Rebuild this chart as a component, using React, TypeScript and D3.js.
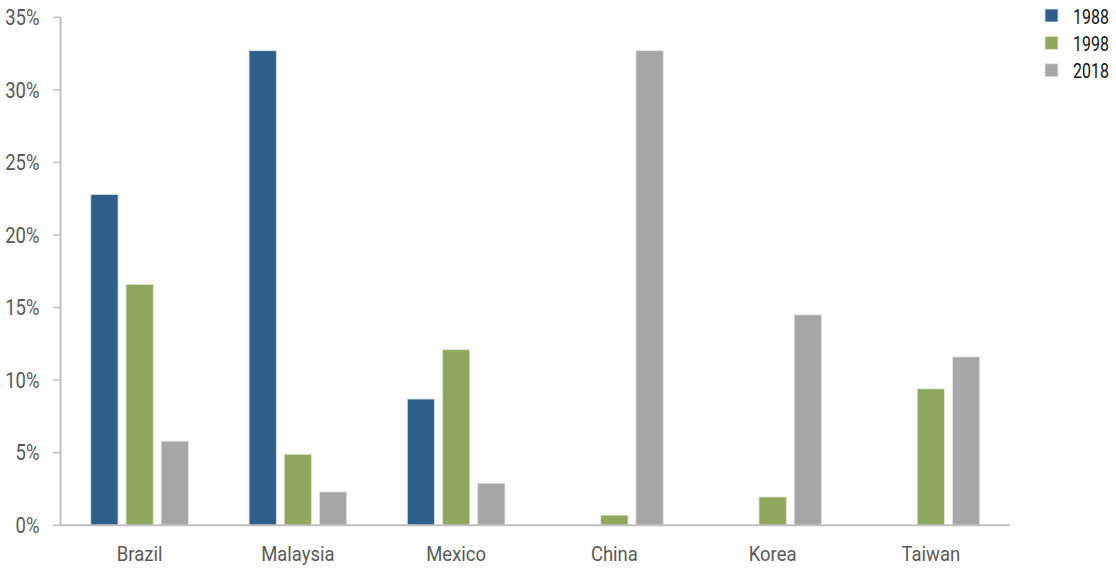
import React from "react";
import * as d3 from "d3";

const categories = ["Brazil", "Malaysia", "Mexico", "China", "Korea", "Taiwan"];
const seriesNames = ["1988", "1998", "2018"];
const values1988 = [22.8, 32.7, 8.7, 0, 0, 0];
const values1998 = [16.6, 4.9, 12.1, 0.7, 1.95, 9.4];
const values2018 = [5.8, 2.3, 2.9, 32.7, 14.5, 11.6];
const yTicks = [0, 5, 10, 15, 20, 25, 30, 35];
const colors = ["#2e5f8a", "#8fa85e", "#a6a6a6"];
const strokes = ["#dfe6ee", "#e4ead8", "#e6e6e6"];

const W = 1116;
const H = 570;
const FONT = "Roboto, 'DejaVu Sans', sans-serif";

export default function App() {
  const left = 60.5;
  const right = 1010;
  const top = 17.3;
  const bottom = 525.3;
  const x0 = d3.scaleBand<string>().domain(categories).range([left, right]).paddingInner(0).paddingOuter(0);
  const x1 = d3.scaleBand<string>().domain(seriesNames).range([0, x0.bandwidth()]).paddingInner(0.224).paddingOuter(0.86);
  const y = d3.scaleLinear().domain([0, 35]).range([bottom, top]);
  const series = [values1988, values1998, values2018];

  return (
    <svg width={W} height={H} style={{ position: "absolute", left: 0, top: 0, background: "#fff" }}>
      {/* bars */}
      {categories.map((c, ci) => (
        <g key={c} transform={`translate(${x0(c)},0)`}>
          {seriesNames.map((s, si) => {
            const v = series[si][ci];
            const yv = y(v);
            return (
              <rect
                key={s}
                x={x1(s)}
                y={yv}
                width={x1.bandwidth()}
                height={Math.max(0, bottom - yv)}
                fill={colors[si]}
                stroke={strokes[si]}
                strokeWidth={0.8}
              />
            );
          })}
        </g>
      ))}
      {/* y axis */}
      <line x1={left} x2={left} y1={top} y2={bottom} stroke="#bfbfbf" strokeWidth={2} />
      {yTicks.map((t) => (
        <g key={t}>
          <line x1={53} x2={left} y1={y(t)} y2={y(t)} stroke="#bfbfbf" strokeWidth={1.5} />
          <text
            transform={`translate(39.5,${y(t)}) scale(0.86,1)`}
            dy="0.36em"
            textAnchor="end"
            fontFamily={FONT}
            fontSize={21.5}
            fill="#595959"
          >
            {d3.format("d")(t) + "%"}
          </text>
        </g>
      ))}
      {/* x axis */}
      <line x1={left - 1} x2={right} y1={bottom} y2={bottom} stroke="#bfbfbf" strokeWidth={2} />
      {categories.map((c) => (
        <text
          key={c}
          transform={`translate(${(x0(c) as number) + x0.bandwidth() / 2},560.5) scale(0.88,1)`}
          textAnchor="middle"
          fontFamily={FONT}
          fontSize={21}
          fill="#595959"
        >
          {c}
        </text>
      ))}
      {/* legend */}
      {seriesNames.map((s, i) => (
        <g key={s} transform={`translate(1045,${16 + i * 27.4})`}>
          <rect x={0} y={-7} width={13} height={13} fill={colors[i]} stroke={strokes[i]} strokeWidth={0.8} />
          <text
            transform="translate(28,0) scale(0.76,1)"
            dy="0.36em"
            fontFamily={FONT}
            fontSize={21}
            fill="#111111"
          >
            {s}
          </text>
        </g>
      ))}
    </svg>
  );
}
